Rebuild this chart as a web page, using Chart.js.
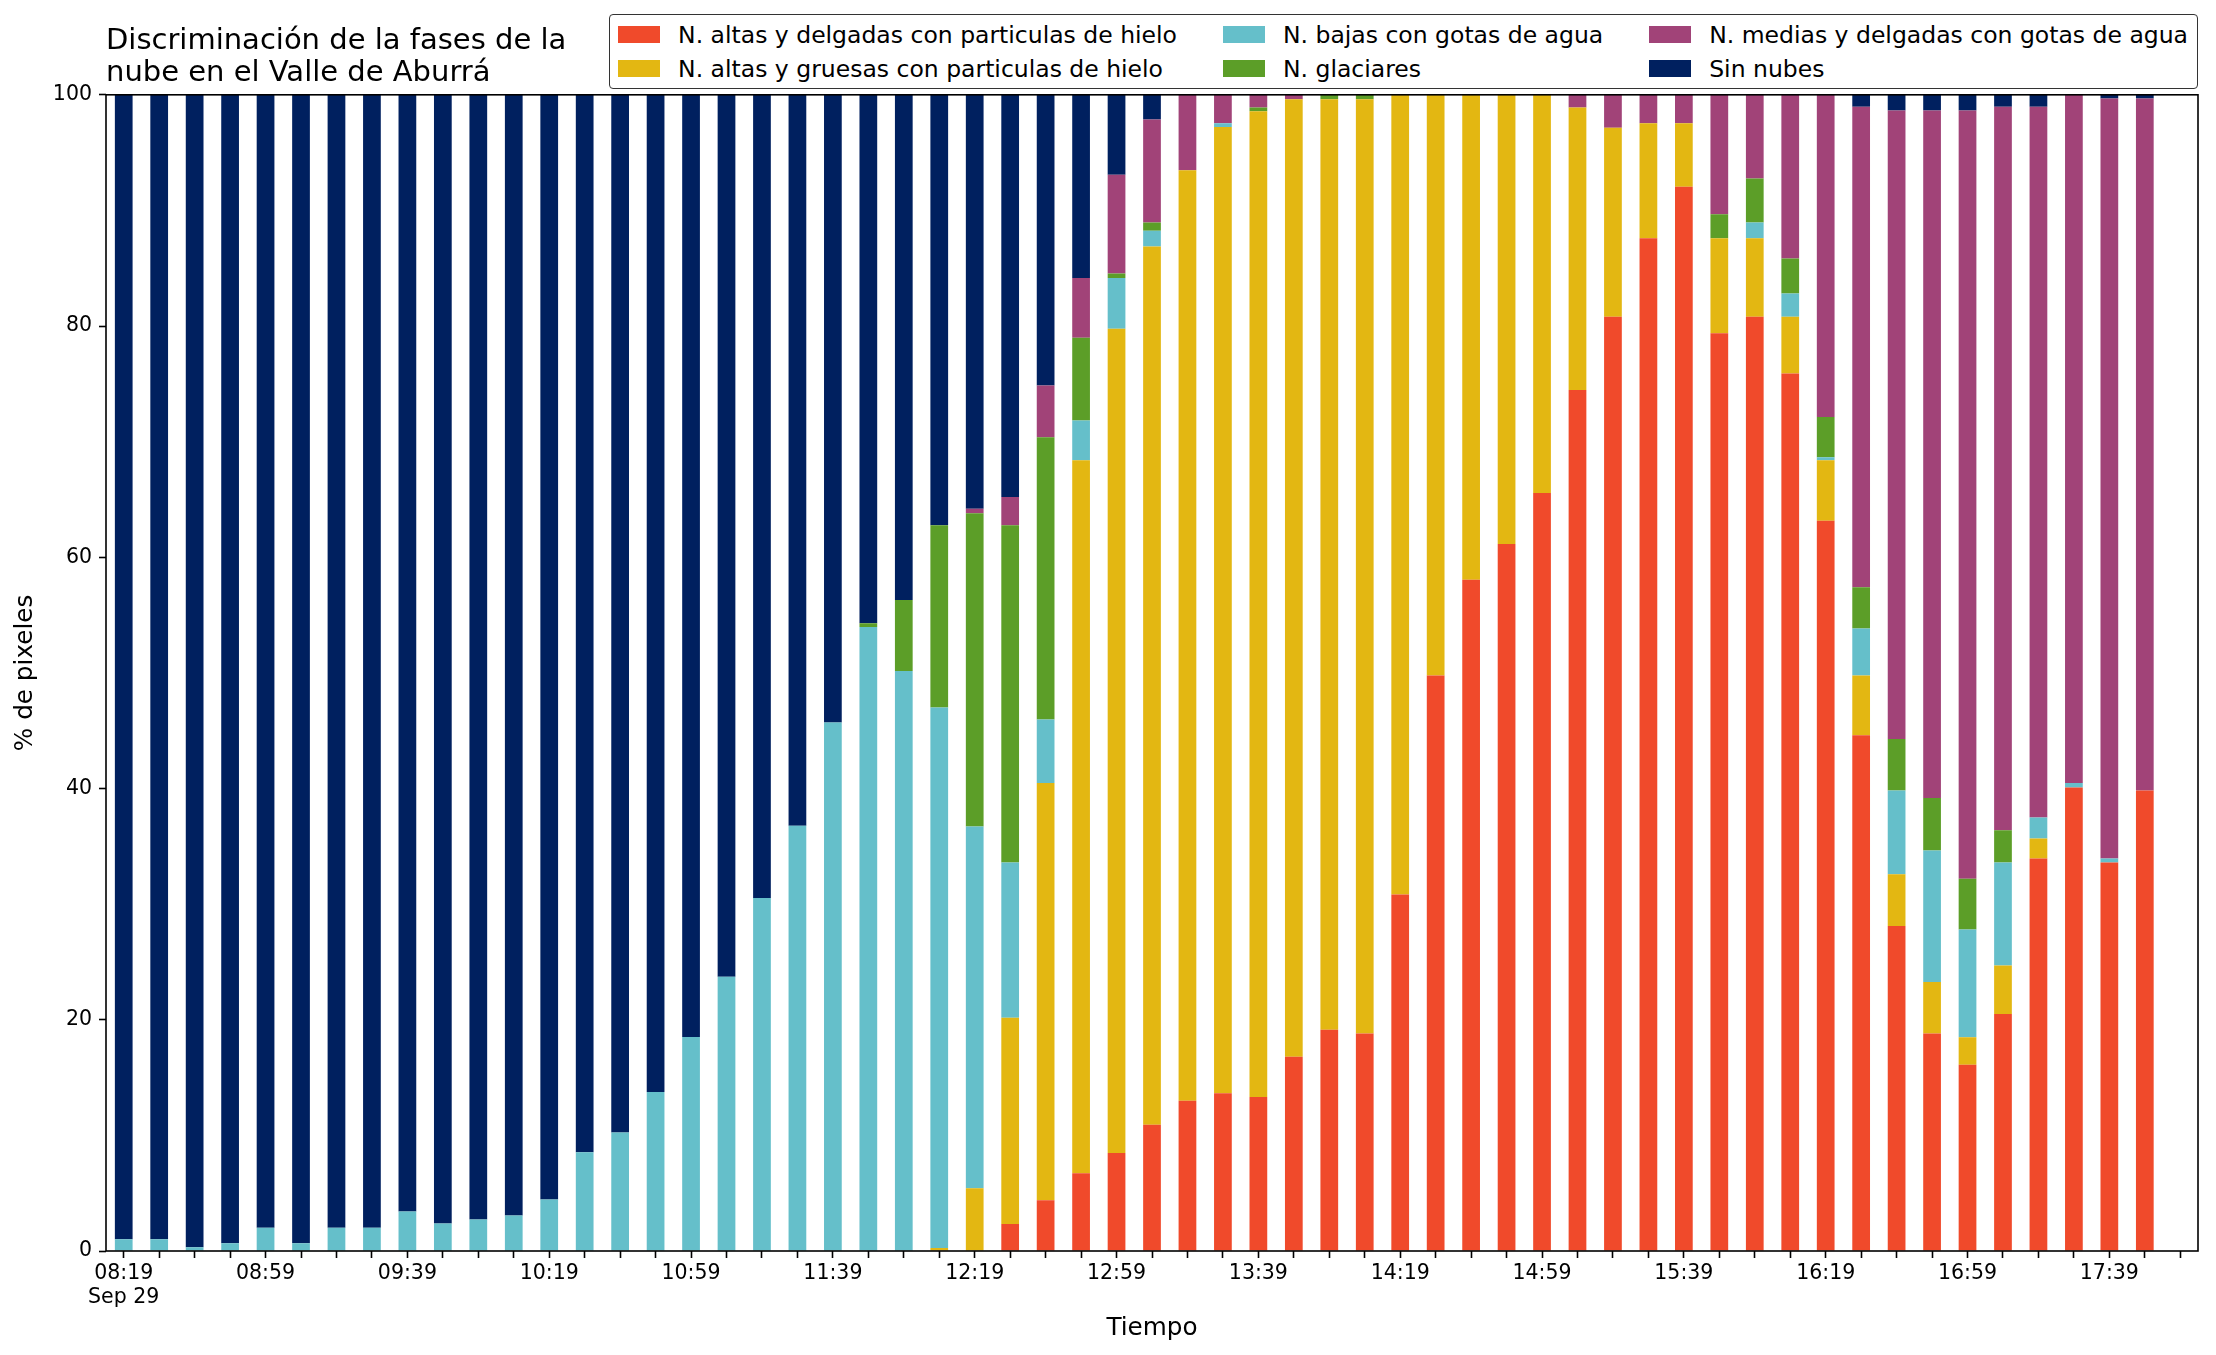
<!DOCTYPE html>
<html>
<head>
<meta charset="utf-8">
<script src="https://cdn.jsdelivr.net/npm/chart.js@4.4.0/dist/chart.umd.min.js"></script>
<style>
  html, body { margin: 0; padding: 0; background: #fff; }
  #wrap { position: relative; width: 2216px; height: 1355px; }
  #legend {
    position: absolute; top: 14px; right: 18px;
    display: grid; grid-template-rows: repeat(2, 34px); grid-auto-flow: column;
    column-gap: 46px; padding: 2.5px 9px 2.5px 8px;
    border: 1.5px solid #333; border-radius: 4px; background: #fff;
    font-family: 'DejaVu Sans'; font-size: 23.5px; color: #000;
  }
  #legend .item { display: flex; align-items: center; white-space: nowrap; }
  #legend .sw { width: 42px; height: 16.5px; margin-right: 18px; flex: none; }
</style>
</head>
<body>
<div id="wrap">
  <canvas id="chart" width="2216" height="1355" style="width:2216px;height:1355px"></canvas>
  <div id="legend"></div>
</div>
<script>
const timeLabels = [
  '08:19', '08:29', '08:39', '08:49', '08:59', '09:09', '09:19', '09:29', '09:39', '09:49',
  '09:59', '10:09', '10:19', '10:29', '10:39', '10:49', '10:59', '11:09', '11:19', '11:29',
  '11:39', '11:49', '11:59', '12:09', '12:19', '12:29', '12:39', '12:49', '12:59', '13:09',
  '13:19', '13:29', '13:39', '13:49', '13:59', '14:09', '14:19', '14:29', '14:39', '14:49',
  '14:59', '15:09', '15:19', '15:29', '15:39', '15:49', '15:59', '16:09', '16:19', '16:29',
  '16:39', '16:49', '16:59', '17:09', '17:19', '17:29', '17:39', '17:49', '17:59'
];
const dateLabel = 'Sep 29';

const seriesNames = [
  'N. altas y delgadas con particulas de hielo',
  'N. altas y gruesas con particulas de hielo',
  'N. bajas con gotas de agua',
  'N. glaciares',
  'N. medias y delgadas con gotas de agua',
  'Sin nubes'
];
const seriesColors = ['#f04a2b', '#e3b712', '#65bfca', '#5c9e28', '#a14378', '#00205f'];

// % de pixeles por clase, una entrada por hora (la ultima sin datos)
const altasDelgadas = [
  0, 0, 0, 0, 0, 0, 0, 0, 0, 0,
  0, 0, 0, 0, 0, 0, 0, 0, 0, 0,
  0, 0, 0, 0, 0, 2.33, 4.40, 6.72, 8.47, 10.92,
  12.99, 13.64, 13.32, 16.81, 19.13, 18.81, 30.83, 49.77, 58.05, 61.15,
  65.55, 74.47, 80.80, 87.59, 92.05, 79.38, 80.80, 75.89, 63.15, 44.60,
  28.12, 18.81, 16.10, 20.49, 33.94, 40.08, 33.61, 39.82, null
];
const altasGruesas = [
  0, 0, 0, 0, 0, 0, 0, 0, 0, 0,
  0, 0, 0, 0, 0, 0, 0, 0, 0, 0,
  0, 0, 0, 0.26, 5.43, 17.84, 36.07, 61.67, 71.30, 75.96,
  80.48, 83.58, 85.26, 82.80, 80.48, 80.80, 69.17, 50.23, 41.95, 38.85,
  34.45, 24.43, 16.36, 9.95, 5.49, 8.21, 6.79, 4.91, 5.24, 5.17,
  4.46, 4.46, 2.39, 4.20, 1.74, 0, 0, 0, null
];
const bajasAgua = [
  1.01, 1.01, 0.32, 0.66, 2.02, 0.66, 2.02, 2.02, 3.41, 2.37,
  2.72, 3.06, 4.45, 8.54, 10.25, 13.75, 18.50, 23.71, 30.54, 36.77,
  45.71, 53.96, 50.16, 46.74, 31.29, 13.44, 5.49, 3.43, 4.39, 1.36,
  0, 0.32, 0, 0, 0, 0, 0, 0, 0, 0,
  0, 0, 0, 0, 0, 0, 1.36, 2.01, 0.26, 4.08,
  7.24, 11.38, 9.31, 8.92, 1.81, 0.39, 0.33, 0, null
];
const glaciares = [
  0, 0, 0, 0, 0, 0, 0, 0, 0, 0,
  0, 0, 0, 0, 0, 0, 0, 0, 0, 0,
  0, 0.33, 6.14, 15.77, 27.08, 29.16, 24.43, 7.17, 0.39, 0.71,
  0, 0, 0.32, 0, 0.39, 0.39, 0, 0, 0, 0,
  0, 0, 0, 0, 0, 2.07, 3.81, 3.03, 3.49, 3.55,
  4.46, 4.52, 4.39, 2.78, 0, 0, 0, 0, null
];
const mediasAgua = [
  0, 0, 0, 0, 0, 0, 0, 0, 0, 0,
  0, 0, 0, 0, 0, 0, 0, 0, 0, 0,
  0, 0, 0, 0, 0.39, 2.45, 4.46, 5.17, 8.53, 8.92,
  6.53, 2.46, 1.10, 0.39, 0, 0, 0, 0, 0, 0,
  0, 1.10, 2.84, 2.46, 2.46, 10.34, 7.24, 14.16, 27.86, 41.57,
  54.36, 59.47, 66.45, 62.58, 61.48, 59.53, 65.74, 59.86, null
];
const sinNubes = [
  98.99, 98.99, 99.68, 99.34, 97.98, 99.34, 97.98, 97.98, 96.59, 97.63,
  97.28, 96.94, 95.55, 91.46, 89.75, 86.25, 81.50, 76.29, 69.46, 63.23,
  54.29, 45.71, 43.70, 37.23, 35.81, 34.78, 25.15, 15.84, 6.92, 2.13,
  0, 0, 0, 0, 0, 0, 0, 0, 0, 0,
  0, 0, 0, 0, 0, 0, 0, 0, 0, 1.03,
  1.36, 1.36, 1.36, 1.03, 1.03, 0, 0.32, 0.32, null
];

const seriesData = [altasDelgadas, altasGruesas, bajasAgua, glaciares, mediasAgua, sinNubes];

Chart.defaults.font.family = 'DejaVu Sans';
Chart.defaults.color = '#000';

// marco de los cuatro lados del area de trazado
const framePlugin = {
  id: 'frame',
  afterDatasetsDraw(chart) {
    const { ctx, chartArea: a } = chart;
    ctx.save();
    ctx.strokeStyle = '#000';
    ctx.lineWidth = 1.6;
    ctx.strokeRect(a.left, a.top, a.right - a.left, a.bottom - a.top);
    ctx.restore();
  }
};

const ctx = document.getElementById('chart').getContext('2d');
new Chart(ctx, {
  type: 'bar',
  data: {
    labels: timeLabels,
    datasets: seriesNames.map((name, i) => ({
      label: name,
      data: seriesData[i],
      backgroundColor: seriesColors[i],
      borderWidth: 0,
      barPercentage: 0.5,
      categoryPercentage: 1.0
    }))
  },
  options: {
    responsive: false,
    animation: false,
    devicePixelRatio: 1,
    layout: { padding: { top: 26, right: 18, bottom: 12, left: 0 } },
    plugins: {
      legend: { display: false },
      tooltip: { enabled: false },
      title: {
        display: true,
        text: ['Discriminación de la fases de la', 'nube en el Valle de Aburrá'],
        align: 'start',
        fullSize: false,
        color: '#000',
        font: { size: 29, weight: 'normal', lineHeight: 1.1 },
        padding: { top: 0, bottom: 5 }
      }
    },
    scales: {
      x: {
        stacked: true,
        offset: true,
        border: { display: false },
        grid: { offset: false, drawOnChartArea: false, tickLength: 7, tickWidth: 1.6, tickColor: '#000' },
        ticks: {
          autoSkip: false, maxRotation: 0, minRotation: 0, padding: 3,
          font: { size: 20.5, lineHeight: 1.2 },
          callback: function (value, index) {
            if (index % 4 !== 0) return '';
            return index === 0 ? [timeLabels[index], dateLabel] : timeLabels[index];
          }
        },
        title: { display: true, text: 'Tiempo', font: { size: 24.7, lineHeight: 1.2 }, padding: { top: 4, bottom: 0 } },
        afterFit(scale) { scale.height = 92; }
      },
      y: {
        stacked: true,
        min: 0,
        max: 100,
        border: { display: false },
        grid: { drawOnChartArea: false, tickLength: 7, tickWidth: 1.6, tickColor: '#000' },
        ticks: { stepSize: 20, padding: 7, font: { size: 20.5 } },
        title: { display: true, text: '% de pixeles', font: { size: 24.7, lineHeight: 1.2 }, padding: { top: 11, bottom: 0 } },
        afterFit(scale) { scale.width = 106; }
      }
    }
  },
  plugins: [framePlugin]
});

// leyenda en tres columnas, ordenada por columnas como en la figura original
const legendHtml = seriesNames
  .map((name, i) => `
    <div class="item">
      <span class="sw" style="background:${seriesColors[i]}"></span>
      <span>${name}</span>
    </div>`)
  .join('');
document.getElementById('legend').innerHTML = legendHtml;
</script>
</body>
</html>
